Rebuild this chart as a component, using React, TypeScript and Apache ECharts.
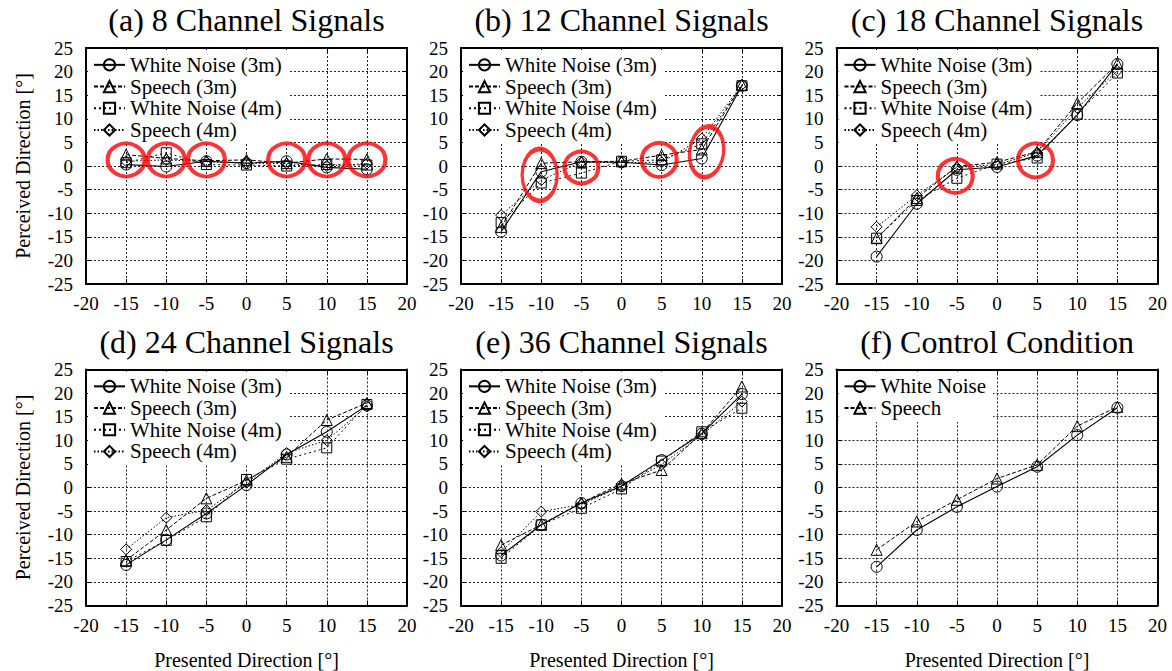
import React, { useEffect, useRef } from "react";
import * as echarts from "echarts";

// ---------- data ----------
const presented = [-15, -10, -5, 0, 5, 10, 15];

const panelTitles = [
  "(a) 8 Channel Signals",
  "(b) 12 Channel Signals",
  "(c) 18 Channel Signals",
  "(d) 24 Channel Signals",
  "(e) 36 Channel Signals",
  "(f) Control Condition",
];

const seriesNames = ["White Noise (3m)", "Speech (3m)", "White Noise (4m)", "Speech (4m)"];
const controlNames = ["White Noise", "Speech"];

// (a) 8 channel
const ch8WhiteNoise3m = [0.3, -0.1, 1.0, 0.6, 1.0, -0.3, -0.7];
const ch8Speech3m = [2.4, 1.6, 1.1, 1.3, 0.6, 1.5, 1.4];
const ch8WhiteNoise4m = [0.7, 2.8, 0.3, 0.2, 0.0, 0.3, 0.2];
const ch8Speech4m = [1.0, 1.3, 0.9, 0.6, 0.5, 0.0, 0.5];

// (b) 12 channel
const ch12WhiteNoise3m = [-13.9, -1.2, 0.9, 0.8, 0.2, 1.6, 17.0];
const ch12Speech3m = [-12.9, 0.6, 0.9, 1.0, 2.3, 3.5, 17.2];
const ch12WhiteNoise4m = [-12.0, -3.6, -1.5, 1.0, 1.3, 4.7, 17.0];
const ch12Speech4m = [-10.4, -3.0, 0.8, 0.7, 0.8, 5.8, 17.2];

// (c) 18 channel
const ch18WhiteNoise3m = [-19.2, -8.0, -0.8, -0.2, 2.2, 10.8, 21.6];
const ch18Speech3m = [-15.3, -6.8, -0.1, 0.8, 3.0, 13.3, 21.7];
const ch18WhiteNoise4m = [-15.3, -7.3, -2.6, 0.4, 1.7, 11.0, 19.7];
const ch18Speech4m = [-12.9, -6.2, -0.3, 0.3, 2.8, 12.3, 20.2];

// (d) 24 channel
const ch24WhiteNoise3m = [-16.4, -11.1, -5.5, 0.5, 7.0, 11.8, 17.4];
const ch24Speech3m = [-15.4, -9.0, -2.3, 1.5, 6.5, 14.3, 17.9];
const ch24WhiteNoise4m = [-15.7, -11.2, -6.2, 1.7, 6.0, 8.4, 17.6];
const ch24Speech4m = [-13.1, -6.4, -4.8, 1.0, 7.3, 10.0, 17.2];

// (e) 36 channel
const ch36WhiteNoise3m = [-14.4, -7.9, -3.3, 0.3, 5.8, 11.4, 19.8];
const ch36Speech3m = [-12.2, -7.9, -3.2, 0.8, 3.7, 11.5, 21.4];
const ch36WhiteNoise4m = [-15.0, -7.9, -4.4, -0.3, 5.6, 11.8, 16.8];
const ch36Speech4m = [-13.7, -5.1, -3.6, 0.2, 4.9, 11.1, 18.2];

// (f) control condition
const controlWhiteNoise = [-16.8, -9.0, -4.1, 0.2, 4.4, 11.1, 16.9];
const controlSpeech = [-13.2, -7.2, -2.6, 1.9, 4.8, 13.0, 17.1];

// red highlight marks (presented, perceived)
const highlightA = [[-15, 1.3], [-10, 1.3], [-5, 1.3], [5, 1.3], [10, 1.3], [15, 1.3]];
const highlightB = [[-10.2, -1.9], [-5, -0.3], [4.7, 1.3], [10.6, 3.0]];
const highlightC = [[-5.2, -2.1], [4.8, 1.2]];

// ---------- styles ----------
const FONT = "serif";
const symbols = ["circle", "triangle", "rect", "diamond"];
const symbolSizes = [11, 11, 10, 11];
const dashes: any[] = ["solid", [4, 2], [2, 3], [1.5, 2]];
const lineWidths = [1.1, 1, 1, 1];

const shapeA = { size: [37, 33], rot: 0 };
const shapesB = [
  { size: [35, 52], rot: 0 },
  { size: [34, 32], rot: 0 },
  { size: [35, 34], rot: 0 },
  { size: [34, 51], rot: -8 },
];
const shapeC = { size: [35, 34], rot: 0 };

const colLefts = [86, 461, 836.5];
const rowTops = [48, 369.5];
const plotW = 321;
const plotH = 236;

const panels = [
  { names: seriesNames, values: [ch8WhiteNoise3m, ch8Speech3m, ch8WhiteNoise4m, ch8Speech4m] },
  { names: seriesNames, values: [ch12WhiteNoise3m, ch12Speech3m, ch12WhiteNoise4m, ch12Speech4m] },
  { names: seriesNames, values: [ch18WhiteNoise3m, ch18Speech3m, ch18WhiteNoise4m, ch18Speech4m] },
  { names: seriesNames, values: [ch24WhiteNoise3m, ch24Speech3m, ch24WhiteNoise4m, ch24Speech4m] },
  { names: seriesNames, values: [ch36WhiteNoise3m, ch36Speech3m, ch36WhiteNoise4m, ch36Speech4m] },
  { names: controlNames, values: [controlWhiteNoise, controlSpeech] },
];

const highlights = [
  highlightA.map((p) => ({ value: p, symbolSize: shapeA.size, symbolRotate: shapeA.rot })),
  highlightB.map((p, i) => ({ value: p, symbolSize: shapesB[i].size, symbolRotate: shapesB[i].rot })),
  highlightC.map((p) => ({ value: p, symbolSize: shapeC.size, symbolRotate: shapeC.rot })),
  [],
  [],
  [],
];

function buildOption() {
  const grid: any[] = [];
  const xAxis: any[] = [];
  const yAxis: any[] = [];
  const title: any[] = [];
  const legend: any[] = [];
  const series: any[] = [];

  const tick = { show: true, inside: true, length: 5, lineStyle: { color: "#000", width: 1 } };
  const border = { show: true, onZero: false, lineStyle: { color: "#000", width: 2 } };
  const split = { show: true, lineStyle: { color: "#222", width: 1, type: [2, 2] } };

  panels.forEach((panel, p) => {
    const col = p % 3;
    const row = Math.floor(p / 3);
    const left = colLefts[col];
    const top = rowTops[row];
    grid.push({ left, top, width: plotW, height: plotH, containLabel: false });

    title.push({
      text: panelTitles[p],
      left: left + plotW / 2,
      top: top - 44,
      textAlign: "center",
      textStyle: { fontFamily: FONT, fontSize: 32, fontWeight: "normal", color: "#000" },
      padding: 0,
    });

    legend.push({
      data: panel.names,
      orient: "vertical",
      left: left + 2,
      top: top + 2,
      itemWidth: 31,
      itemHeight: 14,
      itemGap: 0,
      padding: [4, 7, 3, 5],
      backgroundColor: "#fff",
      selectedMode: false,
      z: 4,
      textStyle: { fontFamily: FONT, fontSize: 21, color: "#000", lineHeight: 21.7 },
    });

    xAxis.push({
      gridIndex: p,
      type: "value",
      min: -20,
      max: 20,
      interval: 5,
      position: "bottom",
      axisLine: border,
      axisTick: tick,
      axisLabel: { fontFamily: FONT, fontSize: 19, color: "#000", margin: 10 },
      splitLine: split,
      name: row === 1 ? "Presented Direction [°]" : "",
      nameLocation: "middle",
      nameGap: 44,
      nameTextStyle: { fontFamily: FONT, fontSize: 20, color: "#000" },
    });
    xAxis.push({
      gridIndex: p,
      type: "value",
      min: -20,
      max: 20,
      interval: 5,
      position: "top",
      axisLine: border,
      axisTick: tick,
      axisLabel: { show: false },
      splitLine: { show: false },
    });
    yAxis.push({
      gridIndex: p,
      type: "value",
      min: -25,
      max: 25,
      interval: 5,
      position: "left",
      axisLine: border,
      axisTick: tick,
      axisLabel: { fontFamily: FONT, fontSize: 19, color: "#000", margin: 13 },
      splitLine: split,
      name: col === 0 ? "Perceived Direction [°]" : "",
      nameLocation: "middle",
      nameGap: 53,
      nameRotate: 90,
      nameTextStyle: { fontFamily: FONT, fontSize: 20, color: "#000" },
    });
    yAxis.push({
      gridIndex: p,
      type: "value",
      min: -25,
      max: 25,
      interval: 5,
      position: "right",
      axisLine: border,
      axisTick: tick,
      axisLabel: { show: false },
      splitLine: { show: false },
    });

    panel.values.forEach((vals, i) => {
      series.push({
        type: "line",
        name: panel.names[i],
        xAxisIndex: 2 * p,
        yAxisIndex: 2 * p,
        data: presented.map((x, j) => [x, vals[j]]),
        symbol: symbols[i],
        symbolSize: symbolSizes[i],
        showAllSymbol: true,
        itemStyle: { color: "transparent", borderColor: "#000", borderWidth: 1 },
        lineStyle: { color: "#000", width: lineWidths[i], type: dashes[i] },
        z: 8,
        silent: true,
      });
    });

    if (highlights[p].length) {
      series.push({
        type: "scatter",
        xAxisIndex: 2 * p,
        yAxisIndex: 2 * p,
        data: highlights[p],
        symbol: "circle",
        itemStyle: { color: "transparent", borderColor: "#ff0000", borderWidth: 4 },
        z: 9,
        silent: true,
      });
    }
  });

  return {
    animation: false,
    backgroundColor: "#fff",
    textStyle: { fontFamily: FONT },
    title,
    legend,
    grid,
    xAxis,
    yAxis,
    series,
  };
}

export default function App() {
  const ref = useRef<HTMLDivElement>(null);
  useEffect(() => {
    document.body.style.margin = "0";
    if (!ref.current) return;
    const chart = echarts.init(ref.current, undefined, { renderer: "svg" });
    chart.setOption(buildOption() as any);
    return () => chart.dispose();
  }, []);
  return <div ref={ref} style={{ width: 1172, height: 671 }} />;
}
